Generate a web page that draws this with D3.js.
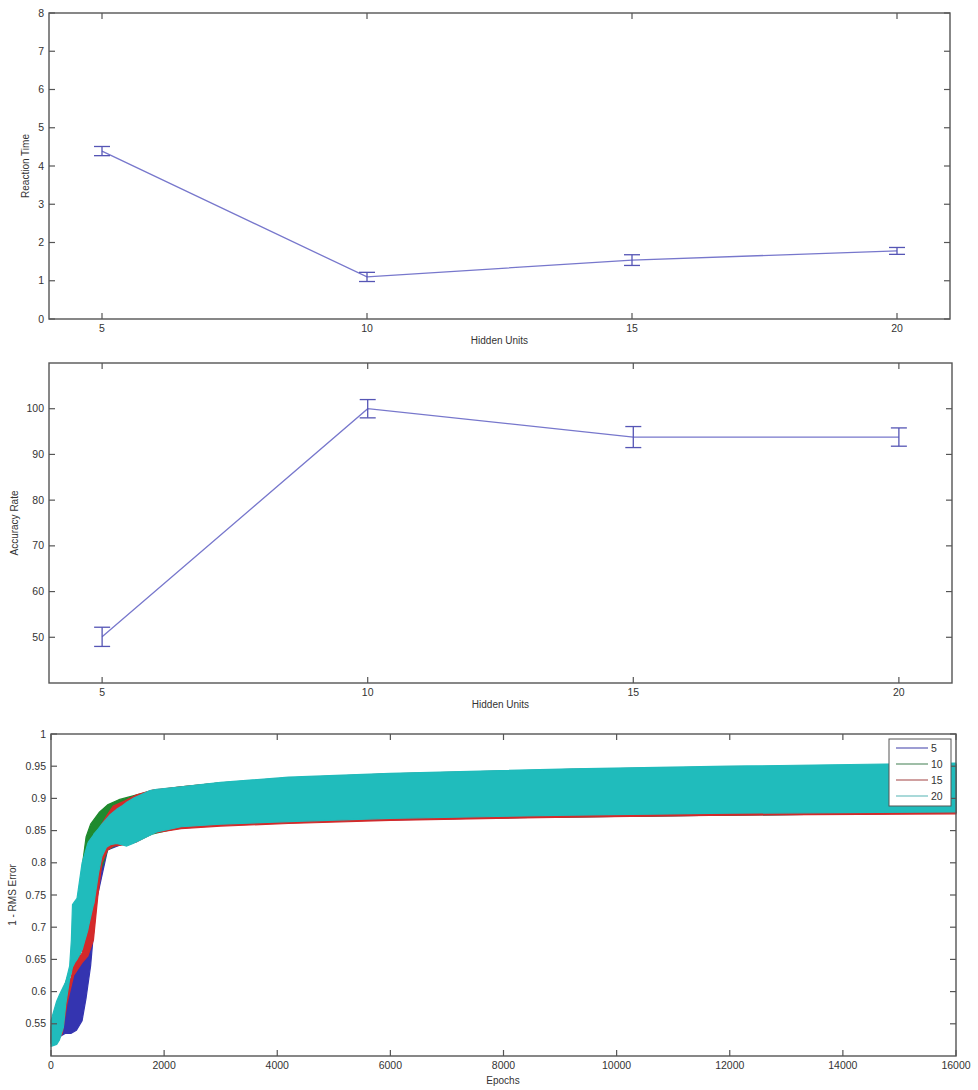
<!DOCTYPE html>
<html><head><meta charset="utf-8">
<script src="https://cdn.jsdelivr.net/npm/d3@7"></script>
<style>
body{margin:0;background:#fff;}
svg text{font-family:"Liberation Sans",Arial,sans-serif;fill:#333;}
</style></head>
<body><svg id="c" width="978" height="1090"></svg>
<script>
// ---- Panel 1: Reaction Time ----
const hiddenUnits = [5, 10, 15, 20];
const reactionTime = [4.39, 1.10, 1.54, 1.78];
const reactionErr = [0.12, 0.12, 0.14, 0.09];
const rtTicks = [0, 1, 2, 3, 4, 5, 6, 7, 8];

// ---- Panel 2: Accuracy Rate ----
const accuracyRate = [50.1, 100.0, 93.8, 93.8];
const accuracyErr = [2.1, 2.0, 2.3, 2.0];
const accTicks = [50, 60, 70, 80, 90, 100];

// ---- Panel 3: 1 - RMS Error bands (envelopes) ----
const seriesNames = ["5", "10", "15", "20"];
const blueEpochs = [0, 150, 250, 350, 450, 550, 620, 700, 800, 1000, 2000, 4000, 8000, 16000];
const blueUpper  = [0.53, 0.55, 0.60, 0.62, 0.63, 0.65, 0.66, 0.70, 0.80, 0.87, 0.91, 0.925, 0.935, 0.945];
const blueLower  = [0.52, 0.53, 0.535, 0.535, 0.54, 0.555, 0.59, 0.64, 0.74, 0.82, 0.855, 0.863, 0.87, 0.878];
const greenEpochs = [0, 300, 450, 520, 560, 620, 700, 850, 1000, 1200, 1500, 1800, 2300, 3000, 6000, 16000];
const greenUpper  = [0.545, 0.625, 0.65, 0.75, 0.80, 0.84, 0.86, 0.878, 0.89, 0.898, 0.905, 0.912, 0.918, 0.924, 0.938, 0.952];
const greenLower  = [0.525, 0.62, 0.645, 0.66, 0.67, 0.69, 0.72, 0.78, 0.82, 0.83, 0.833, 0.845, 0.855, 0.859, 0.868, 0.878];
const redEpochs = [0, 150, 200, 280, 400, 550, 650, 750, 830, 900, 1000, 1100, 1300, 1500, 1800, 2300, 3000, 4200, 6000, 9200, 12000, 16000];
const redUpper  = [0.54, 0.55, 0.56, 0.59, 0.64, 0.66, 0.70, 0.82, 0.845, 0.86, 0.875, 0.888, 0.896, 0.905, 0.913, 0.918, 0.924, 0.932, 0.938, 0.945, 0.949, 0.953];
const redLower  = [0.52, 0.528, 0.535, 0.58, 0.625, 0.645, 0.655, 0.68, 0.75, 0.80, 0.82, 0.826, 0.828, 0.832, 0.846, 0.853, 0.857, 0.861, 0.866, 0.871, 0.874, 0.876];
const cyanEpochs = [0, 100, 150, 220, 260, 330, 360, 380, 420, 460, 550, 650, 660, 750, 760, 840, 900, 980, 1050, 1160, 1250, 1340, 1450, 1570, 1750, 1870, 2300, 3000, 4200, 6000, 9200, 12000, 16000];
const cyanUpper  = [0.555, 0.585, 0.595, 0.608, 0.615, 0.64, 0.68, 0.735, 0.74, 0.745, 0.80, 0.83, 0.832, 0.843, 0.845, 0.853, 0.86, 0.868, 0.875, 0.883, 0.888, 0.894, 0.900, 0.905, 0.912, 0.914, 0.918, 0.925, 0.933, 0.939, 0.946, 0.950, 0.955];
const cyanLower  = [0.515, 0.518, 0.525, 0.545, 0.58, 0.62, 0.63, 0.638, 0.645, 0.65, 0.665, 0.695, 0.70, 0.735, 0.737, 0.784, 0.81, 0.824, 0.828, 0.83, 0.828, 0.826, 0.83, 0.835, 0.843, 0.848, 0.856, 0.86, 0.864, 0.869, 0.874, 0.877, 0.879];
const epochTicks = [0, 2000, 4000, 6000, 8000, 10000, 12000, 14000, 16000];
const rmsTicks = [0.55, 0.6, 0.65, 0.7, 0.75, 0.8, 0.85, 0.9, 0.95, 1];

const svg = d3.select("#c");
const axisColor = "#555";
const lineColor = "#7777cc";
const errColor = "#5555b5";

function box(g, x0, x1, y0, y1) {
  g.append("rect").attr("x", x0).attr("y", y0).attr("width", x1 - x0).attr("height", y1 - y0)
    .attr("fill", "none").attr("stroke", axisColor).attr("stroke-width", 1.4);
}

function drawAxes(g, xs, ys, xticks, yticks, xfmt, yfmt, tl) {
  const [x0, x1] = xs.range(); const [y1, y0] = ys.range();
  xticks.forEach(t => {
    const x = xs(t);
    g.append("line").attr("x1", x).attr("x2", x).attr("y1", y1).attr("y2", y1 - tl).attr("stroke", axisColor).attr("stroke-width", 1.2);
    g.append("line").attr("x1", x).attr("x2", x).attr("y1", y0).attr("y2", y0 + tl).attr("stroke", axisColor).attr("stroke-width", 1.2);
    g.append("text").attr("x", x).attr("y", y1 + 13).attr("text-anchor", "middle").attr("font-size", 10.5).text(xfmt(t));
  });
  yticks.forEach(t => {
    const y = ys(t);
    g.append("line").attr("x1", x0).attr("x2", x0 + tl).attr("y1", y).attr("y2", y).attr("stroke", axisColor).attr("stroke-width", 1.2);
    g.append("line").attr("x1", x1).attr("x2", x1 - tl).attr("y1", y).attr("y2", y).attr("stroke", axisColor).attr("stroke-width", 1.2);
    g.append("text").attr("x", x0 - 5).attr("y", y + 3.5).attr("text-anchor", "end").attr("font-size", 10.5).text(yfmt(t));
  });
  box(g, x0, x1, y0, y1);
}

function errorPanel(xr, yr, ydom, vals, errs, yticks, ylab, ylabX) {
  const g = svg.append("g");
  const xs = d3.scaleLinear().domain([4, 21]).range(xr);
  const ys = d3.scaleLinear().domain(ydom).range(yr);
  const data = hiddenUnits.map((h, i) => ({h, v: vals[i], e: errs[i]}));
  g.append("path").datum(data).attr("fill", "none").attr("stroke", lineColor).attr("stroke-width", 1.3)
    .attr("d", d3.line().x(d => xs(d.h)).y(d => ys(d.v)));
  const eb = g.selectAll(".eb").data(data).enter().append("g");
  eb.append("line").attr("x1", d => xs(d.h)).attr("x2", d => xs(d.h))
    .attr("y1", d => ys(d.v - d.e)).attr("y2", d => ys(d.v + d.e)).attr("stroke", errColor).attr("stroke-width", 1.3);
  [-1, 1].forEach(s => {
    eb.append("line").attr("x1", d => xs(d.h) - 8).attr("x2", d => xs(d.h) + 8)
      .attr("y1", d => ys(d.v + s * d.e)).attr("y2", d => ys(d.v + s * d.e)).attr("stroke", errColor).attr("stroke-width", 1.3);
  });
  drawAxes(g, xs, ys, hiddenUnits, yticks, d3.format("d"), d3.format("d"), 6);
  const xm = (xr[0] + xr[1]) / 2;
  g.append("text").attr("x", xm).attr("y", yr[0] + 25).attr("text-anchor", "middle").attr("font-size", 10).text("Hidden Units");
  g.append("text").attr("transform", `translate(${ylabX},${(yr[0] + yr[1]) / 2}) rotate(-90)`)
    .attr("text-anchor", "middle").attr("font-size", 10).text(ylab);
}

errorPanel([49, 950], [319, 13], [0, 8], reactionTime, reactionErr, rtTicks, "Reaction Time", 29);
errorPanel([49, 952], [683, 363], [40, 110], accuracyRate, accuracyErr, accTicks, "Accuracy Rate", 18);

// ---- Panel 3 ----
const g3 = svg.append("g");
const xE = d3.scaleLinear().domain([0, 16000]).range([51, 956]);
const yR = d3.scaleLinear().domain([0.5, 1]).range([1056, 734]);
const bands = [
  {name: seriesNames[0], ep: blueEpochs, up: blueUpper, lo: blueLower, color: "#3434b0", leg: "#7c7cc4"},
  {name: seriesNames[1], ep: greenEpochs, up: greenUpper, lo: greenLower, color: "#1f8a2e", leg: "#7fa98a"},
  {name: seriesNames[2], ep: redEpochs, up: redUpper, lo: redLower, color: "#d42a2a", leg: "#c08080"},
  {name: seriesNames[3], ep: cyanEpochs, up: cyanUpper, lo: cyanLower, color: "#20bcbc", leg: "#8ccccc"}
];
const area = d3.area().x(d => xE(d.e)).y0(d => yR(d.lo)).y1(d => yR(d.up));
bands.forEach(b => {
  const pts = b.ep.map((e, i) => ({e, up: b.up[i], lo: b.lo[i]}));
  g3.append("path").datum(pts).attr("fill", b.color).attr("stroke", b.color).attr("stroke-width", 1.2)
    .attr("stroke-linejoin", "round").attr("d", area);
});
drawAxes(g3, xE, yR, epochTicks, rmsTicks, d3.format("d"), d => d === 1 ? "1" : d3.format(".2~f")(d), 6);
g3.append("text").attr("x", 503).attr("y", 1084).attr("text-anchor", "middle").attr("font-size", 10).text("Epochs");
g3.append("text").attr("transform", `translate(16,895) rotate(-90)`).attr("text-anchor", "middle").attr("font-size", 10).text("1 - RMS Error");

// legend
const lg = g3.append("g");
lg.append("rect").attr("x", 889).attr("y", 739).attr("width", 62).attr("height", 67)
  .attr("fill", "#fff").attr("stroke", "#555").attr("stroke-width", 1);
bands.forEach((b, i) => {
  const y = 748 + i * 16;
  lg.append("line").attr("x1", 896).attr("x2", 928).attr("y1", y).attr("y2", y).attr("stroke", b.leg).attr("stroke-width", 1.5);
  lg.append("text").attr("x", 931).attr("y", y + 4).attr("font-size", 10.5).text(b.name);
});
</script></body></html>
